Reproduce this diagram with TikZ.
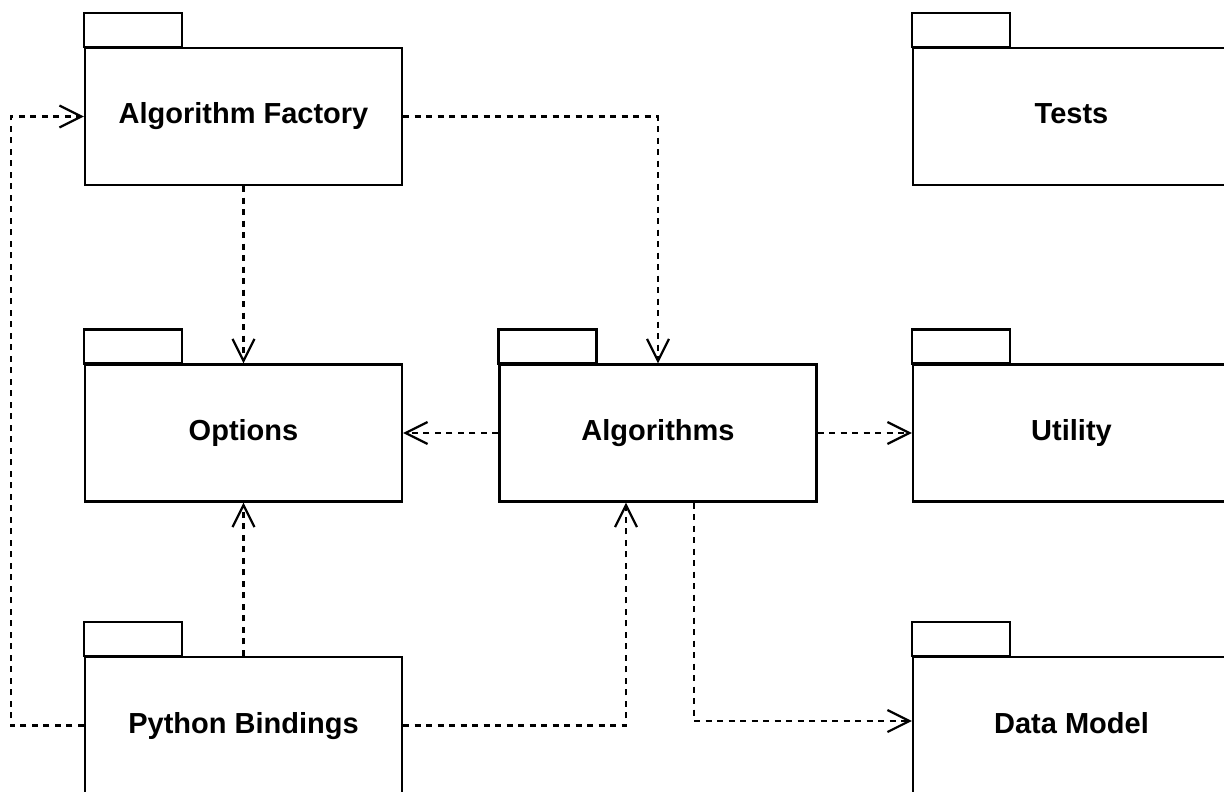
\documentclass[tikz,border=0pt]{standalone}
\usepackage{fontspec}
\setmainfont{Liberation Sans}
\usetikzlibrary{arrows.meta}
\begin{document}
\begin{tikzpicture}[x=1pt,y=-1pt,
  pkg/.style={draw=black,line width=2.2pt,fill=white,rectangle,minimum width=317pt,minimum height=137pt,inner sep=0pt,
    text height=21pt,text depth=6pt,
    font=\fontsize{29}{34}\selectfont\bfseries},
  tab/.style={draw=black,line width=2.2pt,fill=white},
  dep/.style={draw=black,line width=2.2pt,dash pattern=on 6pt off 5.5pt,
    -{Straight Barb[length=22pt,width=22pt,line width=2.2pt]}}]
\useasboundingbox (0,0) rectangle (1224,792);
\clip (0,0) rectangle (1224,792);
\fill[white] (0,0) rectangle (1224,792);

\node[pkg] (af) at (243.5,116.5) {Algorithm Factory};
\node[pkg] (tests) at (1071.5,116.5) {Tests};
\node[pkg] (opt) at (243.5,433) {Options};
\node[pkg] (alg) at (658,433) {Algorithms};
\node[pkg] (util) at (1071.5,433) {Utility};
\node[pkg] (pb) at (243.5,725.5) {Python Bindings};
\node[pkg] (dm) at (1071.5,725.5) {Data Model};

\foreach \n in {af,tests,opt,alg,util,pb,dm}
  \draw[tab] (\n.north west) rectangle ++(98,-34);

\draw[dep] (pb.west) -- ++(-73,0) |- (af.west);
\draw[dep] (af.east) -| (alg.north);
\draw[dep] (af.south) -- (opt.north);
\draw[dep] (alg.west) -- (opt.east);
\draw[dep] (alg.east) -- (util.west);
\draw[dep] (pb.north) -- (opt.south);
\draw[dep] (pb.east) -| ([xshift=-32pt]alg.south);
\draw[dep] ([xshift=36pt]alg.south) |- ([yshift=4.5pt]dm.west);
\end{tikzpicture}
\end{document}
